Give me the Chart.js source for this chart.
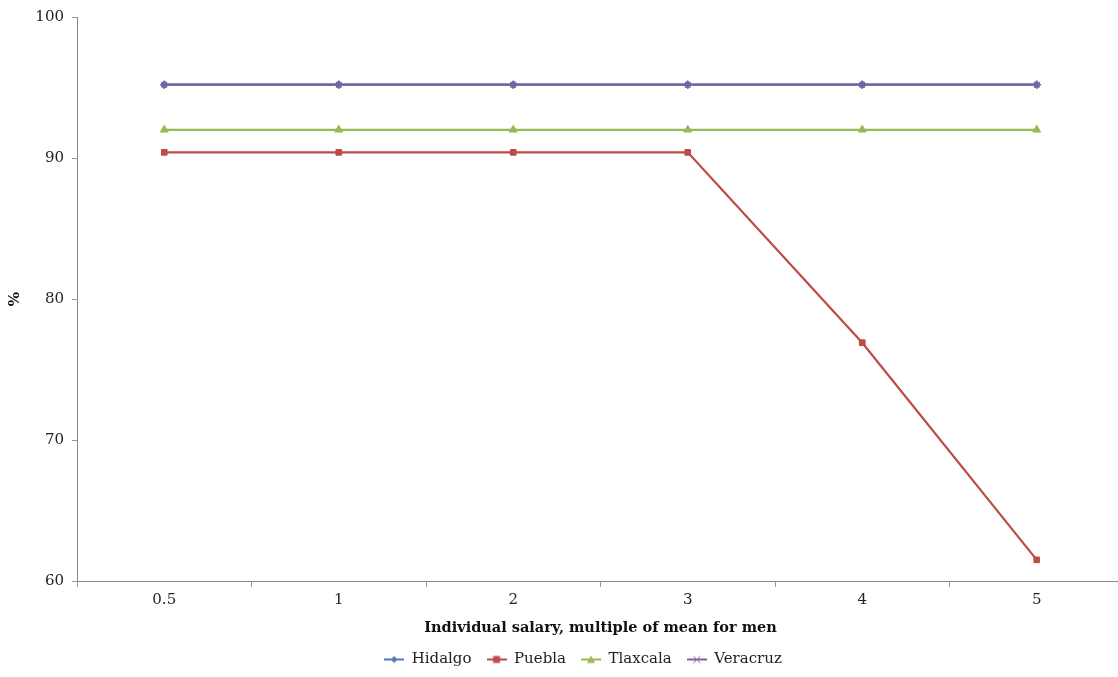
<!DOCTYPE html>
<html>
<head>
<meta charset="utf-8">
<script src="https://cdn.jsdelivr.net/npm/chart.js@4"></script>
<style>
html,body{margin:0;padding:0;background:#fff;overflow:hidden;}
#wrap{width:1130px;height:677px;}
</style>
</head>
<body>
<div id="wrap"><canvas id="c"></canvas></div>
<script>
const categories = ["0.5", "1", "2", "3", "4", "5"];
const hidalgo = [95.2, 95.2, 95.2, 95.2, 95.2, 95.2];
const puebla = [90.4, 90.4, 90.4, 90.4, 76.9, 61.5];
const tlaxcala = [92.0, 92.0, 92.0, 92.0, 92.0, 92.0];
const veracruz = [95.2, 95.2, 95.2, 95.2, 95.2, 95.2];
const yMin = 60, yMax = 100, yStep = 10;
const xTitle = "Individual salary, multiple of mean for men";
const yTitle = "%";

const FONT = "'DejaVu Serif', serif";

function legendIcon(color, style) {
  const c = document.createElement('canvas');
  c.width = 20; c.height = 10;
  const g = c.getContext('2d');
  g.strokeStyle = color; g.fillStyle = color; g.lineWidth = 2;
  g.beginPath(); g.moveTo(0, 5); g.lineTo(20, 5); g.stroke();
  const cx = 10, cy = 5;
  g.lineWidth = 1;
  if (style === 'rectRot') {
    g.beginPath(); g.moveTo(cx, cy-3.5); g.lineTo(cx+3.5, cy); g.lineTo(cx, cy+3.5); g.lineTo(cx-3.5, cy); g.closePath(); g.fill();
  } else if (style === 'rect') {
    g.fillRect(cx-3.5, cy-3.5, 7, 7);
  } else if (style === 'triangle') {
    g.beginPath(); g.moveTo(cx, cy-4); g.lineTo(cx+4, cy+3.5); g.lineTo(cx-4, cy+3.5); g.closePath(); g.fill();
  } else {
    g.beginPath(); g.moveTo(cx-3.5, cy-3.5); g.lineTo(cx+3.5, cy+3.5); g.moveTo(cx+3.5, cy-3.5); g.lineTo(cx-3.5, cy+3.5); g.stroke();
  }
  return c;
}

const series = [
  {label: "Hidalgo", data: hidalgo, color: "#4A7EBB", style: "rectRot", order: 3},
  {label: "Puebla", data: puebla, color: "#BE4B48", style: "rect", order: 1},
  {label: "Tlaxcala", data: tlaxcala, color: "#98B954", style: "triangle", order: 2},
  {label: "Veracruz", data: veracruz, color: "#7D60A0", style: "star", order: 0}
];

const legendShift = {
  id: 'legendShift',
  afterLayout(chart) {
    const lg = chart.legend;
    if (lg) { lg.left += 21; lg.right += 21; }
  }
};

new Chart(document.getElementById('c'), {
  type: 'line',
  plugins: [legendShift],
  data: {
    labels: categories,
    datasets: series.map(s => ({
      label: s.label,
      data: s.data,
      order: s.order,
      borderColor: s.color,
      backgroundColor: s.color,
      pointBackgroundColor: s.color,
      pointBorderColor: s.color,
      pointStyle: s.style,
      pointRadius: s.style === 'triangle' ? 4.5 : 4,
      pointBorderWidth: s.style === 'star' ? 1.2 : 1,
      borderWidth: 2.25,
      tension: 0,
      fill: false
    }))
  },
  options: {
    responsive: true,
    maintainAspectRatio: false,
    animation: false,
    layout: {padding: {top: 16, right: 6, left: 0, bottom: 0}},
    plugins: {
      tooltip: {enabled: false},
      legend: {
        position: 'bottom',
        labels: {
          usePointStyle: true,
          pointStyleWidth: 20,
          font: {family: FONT, size: 15},
          color: '#222',
          padding: 15,
          generateLabels: (chart) => series.map((s, i) => ({
            text: s.label,
            pointStyle: legendIcon(s.color, s.style),
            fillStyle: s.color,
            strokeStyle: s.color,
            lineWidth: 0,
            hidden: false,
            datasetIndex: i,
            fontColor: '#222'
          }))
        }
      }
    },
    scales: {
      x: {
        offset: true,
        grid: {display: true, offset: true, drawOnChartArea: false, drawTicks: true, tickLength: 6, color: '#999'},
        border: {display: true, color: '#888', width: 1},
        ticks: {font: {family: FONT, size: 15}, color: '#222', padding: 4, maxRotation: 0},
        title: {display: true, text: xTitle, font: {family: FONT, size: 14.5, weight: 'bold'}, color: '#111', padding: {top: 8, bottom: 0}},
        afterFit: (s) => { s.height = 56; s.paddingLeft = 0; s.paddingRight = 0; }
      },
      y: {
        min: yMin, max: yMax,
        ticks: {stepSize: yStep, font: {family: FONT, size: 15}, color: '#222', padding: 8},
        grid: {display: true, drawOnChartArea: false, drawTicks: true, tickLength: 5, color: '#999'},
        border: {display: true, color: '#888', width: 1},
        title: {display: true, text: yTitle, font: {family: FONT, size: 15, weight: 'bold'}, color: '#111', padding: {top: 6, bottom: 0}},
        afterFit: (s) => { s.width = 77; }
      }
    }
  }
});
</script>
</body>
</html>
